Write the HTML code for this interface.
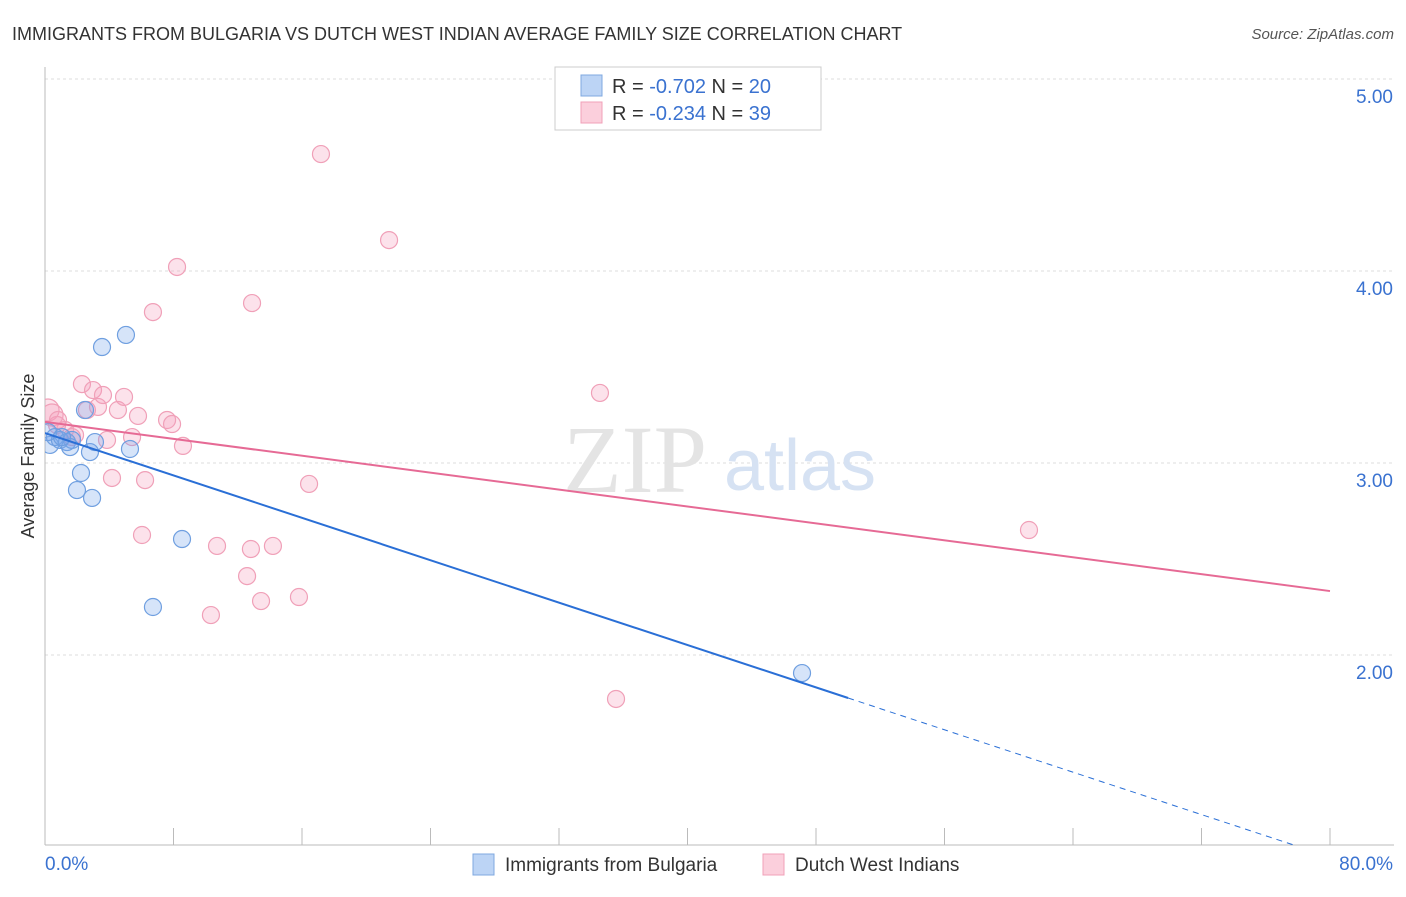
<!DOCTYPE html>
<html><head><meta charset="utf-8"><style>
body{margin:0;background:#fff;font-family:"Liberation Sans",sans-serif}
</style></head><body>
<svg width="1406" height="892" xmlns="http://www.w3.org/2000/svg" font-family="Liberation Sans, sans-serif">
<text x="12" y="40" font-size="18" fill="#333">IMMIGRANTS FROM BULGARIA VS DUTCH WEST INDIAN AVERAGE FAMILY SIZE CORRELATION CHART</text>
<text x="1394" y="39" font-size="15" fill="#555" text-anchor="end" font-style="italic">Source: ZipAtlas.com</text>
<g id="grid"></g>
<text x="635" y="492" font-size="96" fill="#e4e4e4" font-family="Liberation Serif, serif" text-anchor="middle">ZIP</text>
<text x="800" y="490" font-size="72" fill="#d6e2f3" text-anchor="middle">atlas</text>
<text transform="translate(34,456) rotate(-90)" font-size="18" fill="#333" text-anchor="middle">Average Family Size</text>
<defs><clipPath id="pc"><rect x="45" y="60" width="1350" height="785"/></clipPath></defs>
<g id="marks" clip-path="url(#pc)"></g>
<g>
<rect x="555" y="67" width="266" height="63" fill="#fff" stroke="#ccc"/>
<rect x="581" y="75" width="21" height="21" fill="#bcd4f5" stroke="#7fa8e0"/>
<rect x="581" y="102" width="21" height="21" fill="#fbcfdc" stroke="#f0a0b8"/>
<text x="612" y="93" font-size="20" fill="#333">R = <tspan fill="#3a72d0">-0.702</tspan>   N = <tspan fill="#3a72d0">20</tspan></text>
<text x="612" y="120" font-size="20" fill="#333">R = <tspan fill="#3a72d0">-0.234</tspan>   N = <tspan fill="#3a72d0"> 39</tspan></text>
</g>
<g>
<rect x="473" y="854" width="21" height="21" fill="#bcd4f5" stroke="#7fa8e0"/>
<text x="505" y="871" font-size="19" fill="#333">Immigrants from Bulgaria</text>
<rect x="763" y="854" width="21" height="21" fill="#fbcfdc" stroke="#f0a0b8"/>
<text x="795" y="871" font-size="19" fill="#333">Dutch West Indians</text>
</g>
<text x="45" y="870" font-size="19" fill="#3a72d0">0.0%</text>
<text x="1393" y="870" font-size="19" fill="#3a72d0" text-anchor="end">80.0%</text>
</svg>
<script>
const yTicks=[5,4,3,2];
const yTickLabels=["5.00","4.00","3.00","2.00"];
const blueX=[0.31,0.62,0.93,1.37,1.68,1.56,2.49,2.80,3.11,2.24,1.99,2.93,3.55,5.04,5.29,8.53,6.72,47.13,0.19,1.06];
const blueY=[3.094,3.135,3.12,3.109,3.12,3.083,3.276,3.057,3.109,2.948,2.859,2.818,3.604,3.667,3.073,2.604,2.25,1.906,3.161,3.135];
const pinkX=[0.19,0.44,0.75,1.25,1.68,2.30,2.61,2.99,3.30,3.61,3.86,4.17,4.54,4.92,5.42,5.79,6.04,6.23,6.72,7.60,7.91,8.22,8.59,10.33,10.71,12.58,12.82,12.89,13.45,14.19,15.81,16.44,17.18,21.42,34.55,35.55,61.26,0.81,1.87];
const pinkY=[3.276,3.25,3.198,3.172,3.135,3.411,3.276,3.38,3.292,3.354,3.12,2.922,3.276,3.344,3.135,3.245,2.625,2.911,3.786,3.224,3.203,4.021,3.089,2.208,2.568,2.411,2.552,3.833,2.281,2.568,2.302,2.891,4.609,4.161,3.365,1.771,2.651,3.224,3.146];
const blueFit=[3.156,1.776,50];
const pinkFit=[3.214,2.333];
const NS="http://www.w3.org/2000/svg";
const X=v=>45+v*(1285/80);
const Y=v=>79+(5-v)*192;
function mk(t,a,p){const e=document.createElementNS(NS,t);for(const k in a)e.setAttribute(k,a[k]);p.appendChild(e);return e;}
const g=document.getElementById('grid'),m=document.getElementById('marks');
yTicks.forEach((t,i)=>{
 const l=mk('line',{x1:45,x2:1394,y1:Y(t),y2:Y(t),stroke:'#ddd','stroke-dasharray':'3,3'},g);
 
 
 const tx=mk('text',{x:1393,y:Y(t)+24,'font-size':19,fill:'#3a72d0','text-anchor':'end'},g);
 tx.textContent=yTickLabels[i];
 
 
});
const ax=mk('line',{x1:45,x2:1394,y1:845,y2:845,stroke:'#bbb'},g);


const ay=mk('line',{x1:45,x2:45,y1:67,y2:845,stroke:'#bbb'},g);


for(let i=0;i<=10;i++){const t=mk('line',{x1:X(i*8),x2:X(i*8),y1:828,y2:845,stroke:'#bbb'},g);
 
 }
pinkX.forEach((x,i)=>{const c=mk('circle',{cx:X(x),cy:Y(pinkY[i]),r:i<2?11:8.5,fill:'rgba(244,160,188,0.3)',stroke:'#f0a0b8','stroke-width':1.2},m);
 
 });
blueX.forEach((x,i)=>{const c=mk('circle',{cx:X(x),cy:Y(blueY[i]),r:8.5,fill:'rgba(120,165,235,0.3)',stroke:'#6f9fe0','stroke-width':1.2},m);
 
 });
const slope=(blueFit[1]-blueFit[0])/blueFit[2];
const bl=mk('line',{x1:X(0),y1:Y(blueFit[0]),x2:X(blueFit[2]),y2:Y(blueFit[1]),stroke:'#2a6fd6','stroke-width':2},m);


const bd=mk('line',{x1:X(blueFit[2]),y1:Y(blueFit[1]),x2:X(80),y2:Y(blueFit[0]+slope*80),stroke:'#2a6fd6','stroke-width':1,'stroke-dasharray':'6,5'},m);


const pl=mk('line',{x1:X(0),y1:Y(pinkFit[0]),x2:X(80),y2:Y(pinkFit[1]),stroke:'#e66a95','stroke-width':2},m);


</script>
</body></html>
